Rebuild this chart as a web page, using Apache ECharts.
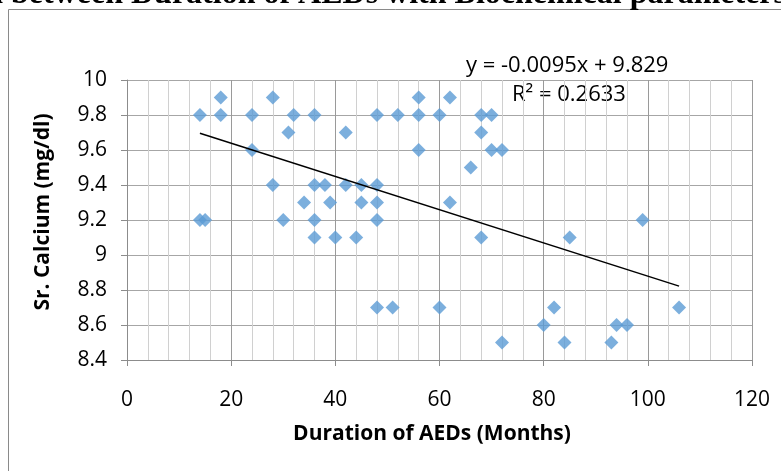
<!DOCTYPE html>
<html>
<head>
<meta charset="utf-8">
<script src="https://cdn.jsdelivr.net/npm/echarts@6/dist/echarts.min.js"></script>
<style>
html,body{margin:0;padding:0;background:#fff;}
#main{width:781px;height:471px;}
</style>
</head>
<body>
<div id="main"></div>
<script>
// duration of AEDs (months) vs serum calcium (mg/dl)
var durationMonths = [14,14,15,18,18,24,24,28,28,30,31,32,34,36,36,36,36,38,39,40,42,42,44,45,45,
	48,48,48,48,48,51,52,56,56,56,60,60,62,62,66,68,68,68,70,70,72,72,80,82,84,85,93,94,96,99,106];
var calcium = [9.8,9.2,9.2,9.9,9.8,9.8,9.6,9.9,9.4,9.2,9.7,9.8,9.3,9.8,9.4,9.2,9.1,9.4,9.3,9.1,9.7,9.4,9.1,9.4,9.3,
	9.8,9.4,9.3,9.2,8.7,8.7,9.8,9.9,9.8,9.6,9.8,8.7,9.9,9.3,9.5,9.8,9.7,9.1,9.8,9.6,9.6,8.5,8.6,8.7,8.5,9.1,8.5,8.6,8.6,9.2,8.7];
var slope = -0.0095;
var intercept = 9.829;
var equationText = 'y = -0.0095x + 9.829';
var r2Text = 'R² = 0.2633';

window.onload = function () {
	var myChart = echarts.init(document.getElementById('main'));
	var points = [];
	for (var i = 0; i < durationMonths.length; i++) {
		points.push([durationMonths[i], calcium[i]]);
	}
	var xMin = Math.min.apply(null, durationMonths);
	var xMax = Math.max.apply(null, durationMonths);
	var trend = [[xMin, intercept + slope * xMin], [xMax, intercept + slope * xMax]];

	var font = 'Open Sans';
	myChart.setOption({
		animation: false,
		grid: {left: 127, right: 29, top: 80, bottom: 111},
		xAxis: {
			type: 'value',
			min: 0, max: 120, interval: 20,
			axisLine: {show: true, lineStyle: {color: '#8c8c8c'}},
			axisTick: {show: true, length: 6, lineStyle: {color: '#8c8c8c'}},
			axisLabel: {margin: 30, fontFamily: font, fontSize: 21, color: '#000'},
			splitLine: {show: true, lineStyle: {color: '#9a9a9a'}},
			minorTick: {show: false, splitNumber: 5},
			minorSplitLine: {show: true, lineStyle: {color: '#d0d0d0'}}
		},
		yAxis: {
			type: 'value',
			min: 8.4, max: 10, interval: 0.2,
			axisLine: {show: true, lineStyle: {color: '#8c8c8c'}},
			axisTick: {show: true, length: 6, lineStyle: {color: '#8c8c8c'}},
			axisLabel: {margin: 20, fontFamily: font, fontSize: 21, color: '#000'},
			splitLine: {show: true, lineStyle: {color: '#a6a6a6'}}
		},
		series: [{
			type: 'scatter',
			symbol: 'diamond',
			symbolSize: 14,
			itemStyle: {color: '#5b9bd5'},
			data: points
		}, {
			type: 'line',
			symbol: 'none',
			lineStyle: {color: '#000', width: 1.5},
			data: trend
		}],
		graphic: [{
			type: 'rect',
			shape: {x: 8.5, y: 9.5, width: 800, height: 500},
			style: {fill: 'none', stroke: '#8a8a8a', lineWidth: 1}
		}, {
			type: 'text',
			x: 786, y: 11,
			style: {
				text: 'Correlation between Duration of AEDs with Biochemical parameters',
				font: 'bold 32px "Liberation Serif"',
				fill: '#000', align: 'right', verticalAlign: 'bottom'
			}
		}, {
			type: 'text',
			x: 466, y: 66,
			style: {text: equationText, font: '22px "Open Sans"', fill: '#000', verticalAlign: 'middle'}
		}, {
			type: 'text',
			x: 512, y: 95,
			style: {text: r2Text, font: '22px "Open Sans"', fill: '#000', verticalAlign: 'middle'}
		}, {
			type: 'text',
			x: 432, y: 434,
			style: {text: 'Duration of AEDs (Months)', font: 'bold 21px "Open Sans"', fill: '#000', align: 'center', verticalAlign: 'middle'}
		}, {
			type: 'text',
			x: 43, y: 212,
			rotation: Math.PI / 2,
			style: {text: 'Sr. Calcium (mg/dl)', font: 'bold 21px "Open Sans"', fill: '#000', align: 'center', verticalAlign: 'middle'}
		}]
	});
};
</script>
</body>
</html>
